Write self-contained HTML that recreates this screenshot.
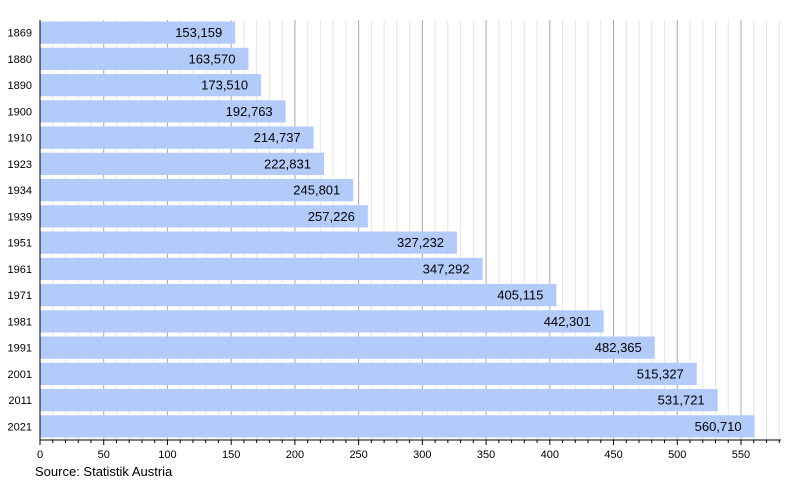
<!DOCTYPE html>
<html><head><meta charset="utf-8"><style>body{margin:0;background:#fff}svg{display:block}</style></head>
<body>
<svg id="c" width="800" height="480" xmlns="http://www.w3.org/2000/svg" font-family="Liberation Sans, sans-serif">
<g id="grid"></g><g id="bars"></g><g id="ax"></g>
<text x="35" y="476" font-size="13" fill="#000">Source: Statistik Austria</text>
</svg>
<script>
(function(){
var ns="http://www.w3.org/2000/svg",X0=40,K=1.2745,T0=20,AY=440;
function el(p,t,a,txt){var e=document.createElementNS(ns,t);for(var i in a)e.setAttribute(i,a[i]);if(txt)e.textContent=txt;document.getElementById(p).appendChild(e);}
for(var v=10;v<=580;v+=10){var x=X0+v*K;el("grid","line",{x1:x,x2:x,y1:T0,y2:AY,stroke:v%50?"#e6e6e6":"#a8a8a8","stroke-width":1});}
var d=[[1869,"153,159",153.159],[1880,"163,570",163.570],[1890,"173,510",173.510],[1900,"192,763",192.763],[1910,"214,737",214.737],[1923,"222,831",222.831],[1934,"245,801",245.801],[1939,"257,226",257.226],[1951,"327,232",327.232],[1961,"347,292",347.292],[1971,"405,115",405.115],[1981,"442,301",442.301],[1991,"482,365",482.365],[2001,"515,327",515.327],[2011,"531,721",531.721],[2021,"560,710",560.710]];
var P=(AY-T0)/16;
d.forEach(function(r,i){var y=T0+P*i+1.5,w=r[2]*K;
el("bars","rect",{x:X0,y:y,width:w,height:P-4,fill:"#b3cbfb"});
el("bars","text",{x:X0+w-13,y:y+P/2+2.5,"font-size":13,"text-anchor":"end",fill:"#000"},r[1]);
el("bars","text",{x:32,y:y+P/2+2,"font-size":11,"text-anchor":"end",fill:"#000"},String(r[0]));});
el("ax","line",{x1:X0,x2:X0,y1:T0,y2:AY,stroke:"#000"});
el("ax","line",{x1:X0,x2:781,y1:AY,y2:AY,stroke:"#000"});
for(var v=0;v<=580;v+=10){var x=X0+v*K;el("ax","line",{x1:x,x2:x,y1:AY,y2:AY+(v%50?3:5),stroke:"#000"});
if(v%50==0)el("ax","text",{x:x,y:458,"font-size":11,"text-anchor":"middle"},String(v));}
})();
</script>
</body></html>
